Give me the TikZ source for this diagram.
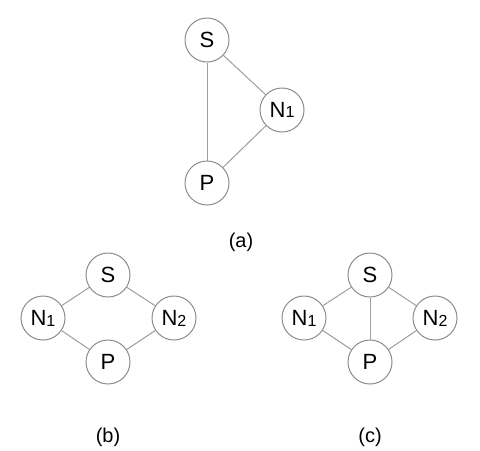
\documentclass[tikz,border=0pt]{standalone}
\usepackage{fontspec}
\setmainfont{Liberation Sans}
\newcommand{\sbx}[1]{{\fontsize{8}{8}\selectfont\raisebox{-0.1ex}{#1}}}
\begin{document}
\begin{tikzpicture}[x=0.5pt,y=-0.5pt,
  nd/.style={circle,draw=black!45,line width=0.5pt,minimum size=22pt,inner sep=0pt,font=\fontsize{11}{13}\selectfont},
  ed/.style={draw=black!38,line width=0.5pt},
  lbl/.style={font=\fontsize{10}{12}\selectfont}]
\useasboundingbox (0,0) rectangle (480,450);
% (a)
\node[nd] (aS) at (207,40) {S};
\node[nd] (aN) at (282,110) {N\sbx{1}};
\node[nd] (aP) at (207,183) {P};
\draw[ed] (aS) -- (aN);
\draw[ed] (aS) -- (aP);
\draw[ed] (aN) -- (aP);
\node[lbl] (la) at (241,242) {(a)};
% (b)
\node[nd] (bS) at (108,275) {S};
\node[nd] (bN1) at (43,318) {N\sbx{1}};
\node[nd] (bN2) at (174,318) {N\sbx{2}};
\node[nd] (bP) at (108,362) {P};
\draw[ed] (bS) -- (bN1);
\draw[ed] (bS) -- (bN2);
\draw[ed] (bN1) -- (bP);
\draw[ed] (bN2) -- (bP);
\node[lbl] (lb) at (108,437) {(b)};
% (c)
\node[nd] (cS) at (370,275) {S};
\node[nd] (cN1) at (304,318) {N\sbx{1}};
\node[nd] (cN2) at (435,318) {N\sbx{2}};
\node[nd] (cP) at (370,362) {P};
\draw[ed] (cS) -- (cN1);
\draw[ed] (cS) -- (cN2);
\draw[ed] (cS) -- (cP);
\draw[ed] (cN1) -- (cP);
\draw[ed] (cN2) -- (cP);
\node[lbl] (lc) at (370,437) {(c)};
\end{tikzpicture}
\end{document}
